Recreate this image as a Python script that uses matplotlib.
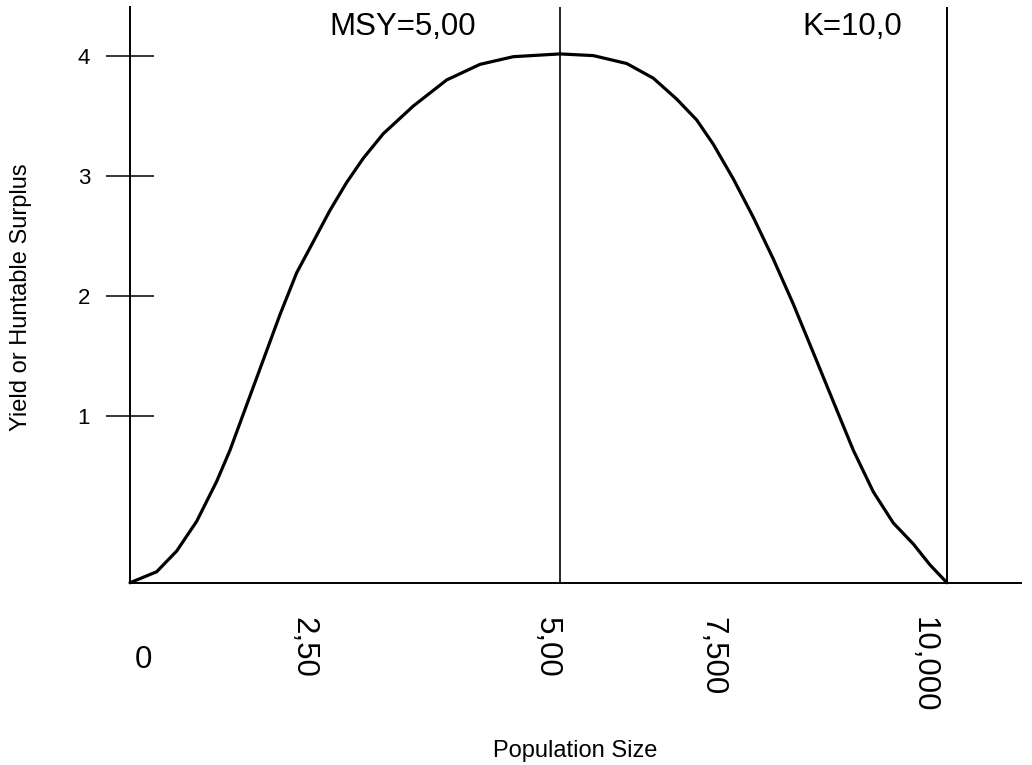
import matplotlib
matplotlib.use("Agg")
import matplotlib.pyplot as plt

plt.rcParams['font.family'] = ['Liberation Sans', 'DejaVu Sans']

# curve (population, yield)
population = [0, 327, 572, 816, 1061, 1224, 1428, 1632, 1836, 2040, 2244,
              2448, 2652, 2856, 3100, 3468, 3876, 4284, 4692, 5263,
              5671, 6080, 6405, 6691, 6936, 7140, 7385, 7629, 7874, 8119,
              8364, 8608, 8853, 9098, 9343, 9588, 9792, 10000]
yield_vals = [-0.39, -0.298, -0.125, 0.122, 0.455, 0.715, 1.092, 1.468, 1.845, 2.193, 2.453,
              2.714, 2.946, 3.148, 3.352, 3.583, 3.80, 3.93, 3.994, 4.017,
              4.003, 3.937, 3.815, 3.641, 3.467, 3.264, 2.975, 2.656, 2.308, 1.932,
              1.527, 1.121, 0.715, 0.368, 0.108, -0.067, -0.241, -0.39]

y_ticks = [1, 2, 3, 4]
x_labels = ['0', '2,50', '5,00', '7,500', '10,000']
msy_x = 5263
k_x = 10000

# layout: where the hand-placed x labels sit (data x)
x_label_pos = [159, 2120, 5104, 7123, 9718]

fig = plt.figure(figsize=(10.32, 7.65), dpi=100)
ax = fig.add_axes([130 / 1032, 1 - 583 / 765, 891 / 1032, 576 / 765])

ax.plot(population, yield_vals, color='black', lw=2.3, clip_on=False,
        solid_joinstyle='round', solid_capstyle='round')
ax.axvline(msy_x, color='black', lw=1.2)
ax.axvline(k_x, color='black', lw=1.4)

ax.set_xlim(0, 10906)
ax.set_ylim(-0.392, 4.408)

for side in ['top', 'right']:
    ax.spines[side].set_visible(False)
for side in ['left', 'bottom']:
    ax.spines[side].set_linewidth(1.4)

ax.set_xticks([])
ax.set_yticks(y_ticks)
ax.set_yticklabels([str(t) for t in y_ticks])
ax.tick_params(axis='y', direction='inout', length=34.6, width=1.1,
               labelsize=16, pad=11.5)

xtr = ax.get_xaxis_transform()
for pos, lab in zip(x_label_pos, x_labels):
    if lab == '0':
        ax.text(pos, -0.134, lab, transform=xtr, ha='center', va='center',
                fontsize=22.5)
    else:
        ax.text(pos, -0.059, lab, transform=xtr, ha='center', va='top',
                rotation=270, fontsize=22.5)

ax.text(3335, 0.951, 'MSY=5,00', transform=xtr, ha='center', va='baseline',
        fontsize=22.5)
ax.text(8837, 0.951, 'K=10,0', transform=xtr, ha='center', va='baseline',
        fontsize=22.5)

fig.text(21 / 1032, 1 - 297 / 765, 'Yield or Huntable Surplus', rotation=90,
         ha='center', va='center', fontsize=17)
fig.text(575 / 1032, 1 - 751 / 765, 'Population Size', ha='center',
         va='center', fontsize=17)

fig.savefig('out.png', dpi=100)
